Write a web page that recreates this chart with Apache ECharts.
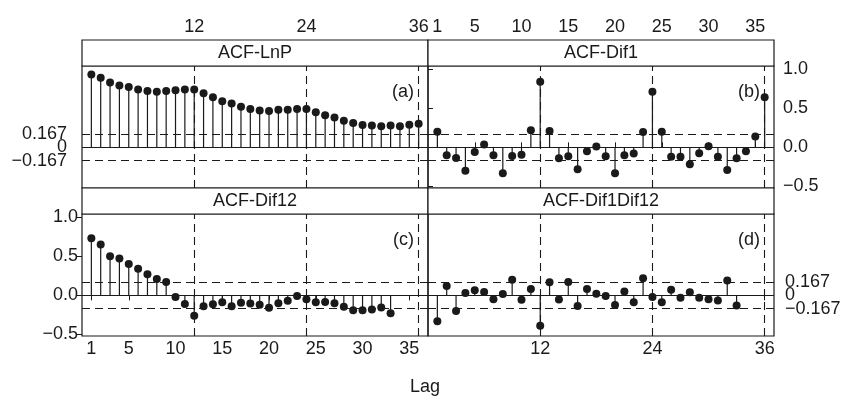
<!DOCTYPE html>
<html>
<head>
<meta charset="utf-8">
<script src="https://cdn.jsdelivr.net/npm/echarts@6/dist/echarts.min.js"></script>
<style>
  html, body { margin: 0; padding: 0; background: #fff; }
  #chart { width: 844px; height: 401px; }
</style>
</head>
<body>
<div id="chart"></div>
<script>
// values
const acfLnP = [0.93, 0.89, 0.83, 0.79, 0.77, 0.74, 0.72, 0.71, 0.72, 0.73, 0.74, 0.74,
                0.69, 0.64, 0.59, 0.56, 0.52, 0.49, 0.47, 0.465, 0.48, 0.48, 0.49, 0.49,
                0.45, 0.41, 0.38, 0.34, 0.31, 0.285, 0.28, 0.27, 0.28, 0.27, 0.29, 0.30];
const acfDif1 = [0.20, -0.10, -0.135, -0.30, -0.06, 0.035, -0.10, -0.33, -0.11, -0.095, 0.22, 0.84,
                 0.21, -0.14, -0.115, -0.28, -0.05, 0.01, -0.115, -0.33, -0.10, -0.08, 0.195, 0.71,
                 0.20, -0.12, -0.12, -0.215, -0.075, 0.013, -0.12, -0.29, -0.14, -0.05, 0.14, 0.64];
const acfDif12 = [0.73, 0.65, 0.50, 0.47, 0.40, 0.34, 0.27, 0.21, 0.17, -0.02, -0.11, -0.26,
                  -0.14, -0.115, -0.09, -0.14, -0.095, -0.105, -0.12, -0.16, -0.10, -0.07, -0.01, -0.05,
                  -0.09, -0.085, -0.10, -0.145, -0.19, -0.19, -0.18, -0.155, -0.23];
const acfDif1Dif12 = [-0.33, 0.12, -0.20, 0.03, 0.066, 0.043, -0.05, 0.017, 0.20, -0.056, 0.08, -0.39,
                      0.166, -0.054, 0.17, -0.135, 0.08, 0.02, -0.01, -0.125, 0.048, -0.09, 0.22, -0.02,
                      -0.09, 0.07, -0.03, 0.04, -0.03, -0.05, -0.065, 0.19, -0.13];

const panelNames = ['ACF-LnP', 'ACF-Dif1', 'ACF-Dif12', 'ACF-Dif1Dif12'];
const panelTags = ['(a)', '(b)', '(c)', '(d)'];
const seasonTicks = [12, 24, 36];
const lagTicks = [1, 5, 10, 15, 20, 25, 30, 35];
const bandTicks = [-0.167, 0, 0.167];
const bandLabels = ['\u22120.167', '0', '0.167'];
const acfTicks = [-0.5, 0.0, 0.5, 1.0];
const band = 0.167;

const ink = '#1a1a1a';
const font = 'Liberation Sans, Arial, sans-serif';

const chart = echarts.init(document.getElementById('chart'));

// panel layout
const L = 82, M = 428, R = 774;
const T = 40, stripH = 26, plotH = 122;
const panels = [
  { left: L, width: M - L, top: T + stripH },
  { left: M, width: R - M, top: T + stripH },
  { left: L, width: M - L, top: T + 2 * stripH + plotH },
  { left: M, width: R - M, top: T + 2 * stripH + plotH }
];

const fmtAcf = (v) => (v < 0 ? '\u2212' : '') + Math.abs(v).toFixed(1);

const txt = { color: ink, fontSize: 18, fontFamily: font };

function xAx(i, pos, ticks, offset) {
  return {
    type: 'value', gridIndex: i, min: 0, max: 37,
    position: pos, offset: offset || 0,
    axisLine: { show: false },
    splitLine: { show: false },
    axisTick: { show: true, length: 5, lineStyle: { color: ink }, customValues: ticks },
    axisLabel: Object.assign({ margin: 4, customValues: ticks }, txt)
  };
}
function yAx(i, pos, ticks, showLabel, tick, margin) {
  return {
    type: 'value', gridIndex: i, min: -0.52, max: 1.04,
    position: pos,
    axisLine: { show: false },
    splitLine: { show: false },
    axisTick: { show: tick, length: 5, lineStyle: { color: ink }, customValues: ticks },
    axisLabel: Object.assign({ show: showLabel, margin: margin, customValues: ticks, formatter: fmtAcf }, txt)
  };
}

// band labels (a: left side, d: right side) ride on the reference lines
function bandLine(v, k, side) {
  const item = { yAxis: v };
  if (v === 0) item.lineStyle = { type: 'solid', color: ink, width: 1.1 };
  if (side) {
    item.label = Object.assign({
      show: true, position: side, distance: side === 'start' ? 15 : 11,
      formatter: bandLabels[k]
    }, txt);
  }
  return item;
}

const datasets = [acfLnP, acfDif1, acfDif12, acfDif1Dif12];
const labelSide = ['start', null, null, 'end'];
const series = [];
datasets.forEach((vals, i) => {
  const pts = vals.map((v, k) => [k + 1, v]);
  series.push({
    type: 'bar', xAxisIndex: i, yAxisIndex: i, data: pts,
    barWidth: 1.2, itemStyle: { color: ink }, silent: true
  });
  series.push({
    type: 'scatter', xAxisIndex: i, yAxisIndex: i, data: pts,
    symbolSize: 8, itemStyle: { color: ink, opacity: 1 }, silent: true, z: 3,
    markLine: {
      silent: true, symbol: ['none', 'none'], label: { show: false },
      animation: false,
      lineStyle: { color: ink, width: 1.1, type: [8, 5] },
      data: [
        ...bandTicks.map((v, k) => bandLine(v, k, labelSide[i])),
        ...seasonTicks.map(s => ({ xAxis: s }))
      ]
    }
  });
});

const graphics = [];
panels.forEach((p, i) => {
  graphics.push({
    type: 'rect', silent: true, z: 10,
    shape: { x: p.left, y: p.top - stripH, width: p.width, height: stripH },
    style: { fill: '#fff', stroke: ink, lineWidth: 1.2 }
  });
  graphics.push({
    type: 'text', silent: true, z: 11,
    x: p.left + p.width / 2, y: p.top - stripH / 2,
    style: { text: panelNames[i], fill: ink, font: '18px ' + font, align: 'center', verticalAlign: 'middle' }
  });
  graphics.push({
    type: 'text', silent: true, z: 11,
    x: p.left + p.width - 14, y: p.top + 26,
    style: { text: panelTags[i], fill: ink, font: '18px ' + font, align: 'right', verticalAlign: 'middle' }
  });
});
graphics.push({
  type: 'text', silent: true,
  x: 425, y: 387,
  style: { text: 'Lag', fill: ink, font: '18px ' + font, align: 'center', verticalAlign: 'middle' }
});

chart.setOption({
  animation: false,
  backgroundColor: '#fff',
  grid: panels.map(p => ({
    left: p.left, top: p.top, width: p.width, height: plotH,
    show: true, borderColor: ink, borderWidth: 1.2, backgroundColor: 'transparent'
  })),
  xAxis: [
    xAx(0, 'top', seasonTicks, stripH),
    xAx(1, 'top', lagTicks, stripH),
    xAx(2, 'bottom', lagTicks, 0),
    xAx(3, 'bottom', seasonTicks, 0)
  ],
  yAxis: [
    yAx(0, 'left', bandTicks, false, false, 16),
    yAx(1, 'right', acfTicks, true, true, 9),
    yAx(2, 'left', acfTicks, true, true, 4),
    yAx(3, 'right', bandTicks, false, true, 8)
  ],
  series: series,
  graphic: graphics
});

window.addEventListener('resize', () => chart.resize());
</script>
</body>
</html>
